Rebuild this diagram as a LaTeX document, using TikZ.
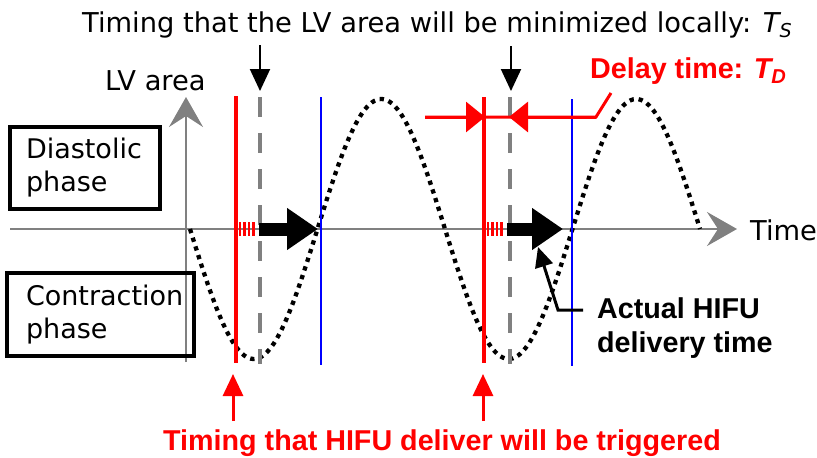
\documentclass[tikz,border=0pt]{standalone}
\usepackage{fontspec}
\setmainfont{DejaVu Sans}
\newfontfamily\boldsans{Liberation Sans}
\usetikzlibrary{arrows.meta}
\definecolor{axgray}{RGB}{128,128,128}
\definecolor{pred}{RGB}{255,0,0}
\definecolor{pblue}{RGB}{0,0,255}
\begin{document}
\begin{tikzpicture}[x=1pt,y=-1pt,
  txt/.style={inner sep=0pt, anchor=base west, font=\fontsize{27.3}{33}\selectfont},
  btxt/.style={inner sep=0pt, anchor=base west, font=\fontsize{28.7}{34}\selectfont\boldsans\bfseries},
  phasebox/.style={draw=black, line width=3.2pt, inner ysep=0pt, align=left,
     font=\fontsize{27}{33}\selectfont},
  axisline/.style={draw=axgray, line width=2pt, -{Stealth[length=30pt,width=34pt,inset=11pt]}},
  trigline/.style={draw=pred, line width=3.4pt},
  deliverline/.style={draw=pblue, line width=2.3pt},
  minline/.style={draw=axgray, line width=4pt, dash pattern=on 20pt off 16pt},
  downarrow/.style={draw=black, line width=2pt, -{Triangle[length=22pt,width=20pt]}},
  uparrow/.style={draw=pred, line width=3pt, -{Triangle[length=22pt,width=20pt]}},
  bigarrow/.style={draw=black, line width=13pt, -{Triangle[length=31pt,width=40pt]}},
  hatch/.style={draw=pred, line width=2.6pt},
  delayarrow/.style={draw=pred, line width=3pt, -{Triangle[length=19pt,width=30pt]}},
  curve/.style={draw=black, line width=4.3pt, dash pattern=on 4.3pt off 4.8pt},
]
\useasboundingbox (0,0) rectangle (817,458);

% axes
\coordinate (xstart) at (10,229);
\coordinate (xend) at (737,229);
\coordinate (ystart) at (186,362);
\coordinate (yend) at (186,97);
\draw[axisline] (xstart) -- (xend);
\draw[axisline] (ystart) -- (yend);

% phase boxes
\node[phasebox, inner xsep=16pt, text width=118pt, minimum height=82pt] (dbox) at (85,168) {Diastolic\\phase};
\node[phasebox, inner xsep=19pt, text width=149pt, minimum height=83pt] (cbox) at (100.5,314.5) {Contraction\\phase};

% vertical timing lines
\coordinate (r1t) at (236,96);  \coordinate (r1b) at (236,363);
\coordinate (g1t) at (260,97);  \coordinate (g1b) at (260,364);
\coordinate (b1t) at (321,97);  \coordinate (b1b) at (321,365);
\coordinate (r2t) at (484,97);  \coordinate (r2b) at (484,363);
\coordinate (g2t) at (510,97);  \coordinate (g2b) at (510,364);
\coordinate (b2t) at (572,99);  \coordinate (b2b) at (572,366);

% LV area curve
\draw[curve] plot[domain=190:700, samples=200, smooth] (\x, {229+130*sin(1.411765*(\x-190))});

\draw[minline] (g1t) -- (g1b);
\draw[minline] (g2t) -- (g2b);
\draw[trigline] (r1t) -- (r1b);
\draw[trigline] (r2t) -- (r2b);
\draw[deliverline] (b1t) -- (b1b);
\draw[deliverline] (b2t) -- (b2b);

% hatches and big arrows
\foreach \h in {240,244.5,249,253.5} {\draw[hatch] (\h,222) -- (\h,236);}
\foreach \h in {488,492.5,497,501.5} {\draw[hatch] (\h,222) -- (\h,236);}
\coordinate (a1s) at (259,229); \coordinate (a1e) at (318,229);
\coordinate (a2s) at (507,229); \coordinate (a2e) at (563,229);
\draw[bigarrow] (a1s) -- (a1e);
\draw[bigarrow] (a2s) -- (a2e);

% top label and arrows
\node[txt] (ts) at (82,32) {Timing that the LV area will be minimized locally: {\itshape T\textsubscript{S}}};
\coordinate (d1s) at (260,45); \coordinate (d1e) at (260,91);
\coordinate (d2s) at (511,46); \coordinate (d2e) at (511,91);
\draw[downarrow] (d1s) -- (d1e);
\draw[downarrow] (d2s) -- (d2e);

% axis labels
\node[txt] (lv) at (105,90) {LV area};
\node[txt] (time) at (750,240) {Time};

% delay time
\coordinate (dl) at (425,117);
\coordinate (dt1) at (485,117);
\coordinate (dt2) at (509,117);
\coordinate (dr) at (596,117);
\coordinate (dk) at (611,93);
\draw[pred, line width=3pt] (dl) -- (dr) -- (dk);
\draw[delayarrow] (dl) -- (dt1);
\draw[delayarrow] (dr) -- (dt2);
\node[btxt, text=pred] (delay) at (590,78) {Delay time: {\itshape T\textsubscript{D}}};

% bottom trigger label
\coordinate (u1s) at (233,421); \coordinate (u1e) at (233,374);
\coordinate (u2s) at (483,421); \coordinate (u2e) at (483,374);
\draw[uparrow] (u1s) -- (u1e);
\draw[uparrow] (u2s) -- (u2e);
\node[btxt, text=pred] (trig) at (163,450) {Timing that HIFU deliver will be triggered};

% actual delivery
\node[btxt, align=left, anchor=north west] (act) at (597,297) {Actual HIFU\\delivery time};
\coordinate (ac1) at (583,310);
\coordinate (ac2) at (558,310);
\coordinate (ac3) at (538,247);
\draw[draw=black, line width=3pt, -{Triangle[length=20pt,width=18pt]}] (ac1) -- (ac2) -- (ac3);
\end{tikzpicture}
\end{document}
